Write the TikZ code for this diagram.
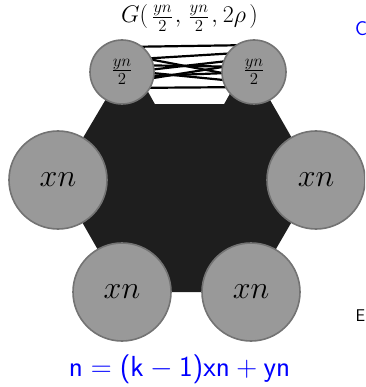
\RequirePackage{fix-cm}
\documentclass[tikz,border=0pt]{standalone}
\usepackage{fontspec}
\usetikzlibrary{calc}
\DeclareMathSizes{24}{24}{16.8}{12}
\definecolor{hexc}{HTML}{1E1E1E}
\definecolor{cfill}{HTML}{999999}
\definecolor{cdraw}{HTML}{737373}
\begin{document}
\begin{tikzpicture}[x=1pt,y=-1pt,
  part/.style={circle,fill=cfill,draw=cdraw,line width=1.6pt,inner sep=0pt},
  bigpart/.style={part,minimum size=98pt,font=\fontsize{32}{36}\selectfont},
  smallpart/.style={part,minimum size=64pt,font=\fontsize{24}{28}\selectfont},
  gedge/.style={line width=2.2pt,black}]
\useasboundingbox (0,0) rectangle (365,387);
\clip (0,0) rectangle (365,387);
\coordinate (ptl) at (122,72);
\coordinate (ptr) at (254,72);
\coordinate (pl) at (58,180);
\coordinate (pr) at (316,180);
\coordinate (pbl) at (122,292);
\coordinate (pbr) at (251,292);
\fill[hexc] (ptl) -- (ptr) -- (pr) -- (pbr) -- (pbl) -- (pl) -- cycle;
\fill[white] (136,70) -- (243,70) -- (224,104) -- (155,104) -- cycle;
\foreach \a/\b in {47/45, 54/79, 60/52, 65/67, 73/58, 77/72, 83/62, 88/87, 70/83}
  \draw[gedge] ($(ptl)+(0,\a-72)$) -- ($(ptr)+(0,\b-72)$);
\node[smallpart] (tl) at (ptl) {$\frac{yn}{2}$};
\node[smallpart] (tr) at (ptr) {$\frac{yn}{2}$};
\node[bigpart] (l) at (pl) {$xn$};
\node[bigpart] (r) at (pr) {$xn$};
\node[bigpart] (bl) at (pbl) {$xn$};
\node[bigpart] (br) at (pbr) {$xn$};
\node[font=\fontsize{24}{28}\selectfont] (title) at (189.5,18) {$G(\kern4pt\frac{yn}{2}\kern2pt,\kern3pt\frac{yn}{2}\kern2pt,\kern1pt2\rho\kern3.5pt)$};
\node[text=blue,font=\fontsize{29}{33}\selectfont] (eq) at (179.5,369) {$\mathsf{n}=\textsf{(}\mathsf{k}-\mathsf{1}\textsf{)}\mathsf{xn}+\mathsf{yn}$};
\node[text=blue,font=\sffamily\fontsize{20}{24}\selectfont,anchor=west,inner sep=0pt] (cutc) at (355,29) {C};
\node[font=\sffamily\fontsize{17}{20}\selectfont,anchor=west,inner sep=0pt] (cute) at (355.5,316) {E};
\end{tikzpicture}
\end{document}
